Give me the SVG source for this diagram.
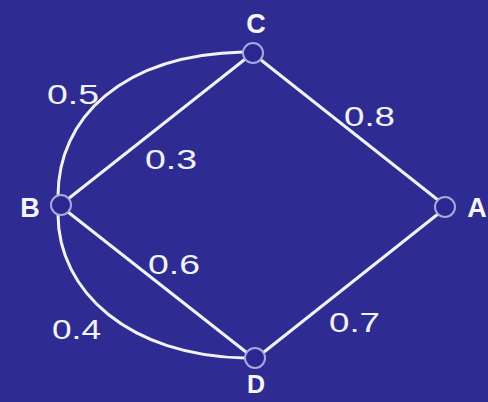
<svg xmlns="http://www.w3.org/2000/svg" width="488" height="402" viewBox="0 0 488 402">
<style>
.bg{fill:#2e2c93}
.e{fill:none;stroke:#f2f2fa;stroke-width:3;stroke-linecap:round}
.n{fill:#2a2890;stroke:#a8a8dc;stroke-width:2}
.w{fill:#f2f2fa;font-family:"Liberation Sans",Arial,sans-serif;font-size:27px}
.l{fill:#f6f6fc;font-family:"Liberation Sans",Arial,sans-serif;font-size:27px;font-weight:bold}
</style>
<rect class="bg" x="0" y="0" width="488" height="402"/>
<g id="connectors">
<path class="e" d="M261,60 L438,200"/>
<path class="e" d="M438,214 L264,352"/>
<path class="e" d="M68,199 L244,60"/>
<path class="e" d="M68,212 L246,352"/>
<path class="e" d="M58,196 C58,118 122,55 243,52"/>
<path class="e" d="M58,214 C58,292 130,356 245,358"/>
<text class="w" x="47" y="104" textLength="52" lengthAdjust="spacingAndGlyphs">0.5</text>
<text class="w" x="145" y="169" textLength="52" lengthAdjust="spacingAndGlyphs">0.3</text>
<text class="w" x="344" y="126" textLength="51" lengthAdjust="spacingAndGlyphs">0.8</text>
<text class="w" x="148" y="274" textLength="52" lengthAdjust="spacingAndGlyphs">0.6</text>
<text class="w" x="52" y="339" textLength="49" lengthAdjust="spacingAndGlyphs">0.4</text>
<text class="w" x="329" y="332" textLength="51" lengthAdjust="spacingAndGlyphs">0.7</text>
</g>
<g id="node-C"><circle class="n" cx="253" cy="53" r="10"/><text class="l" x="256" y="33" text-anchor="middle">C</text></g>
<g id="node-B"><circle class="n" cx="61" cy="205" r="10"/><text class="l" x="30" y="217" text-anchor="middle">B</text></g>
<g id="node-A"><circle class="n" cx="445" cy="207" r="10"/><text class="l" x="477" y="217" text-anchor="middle">A</text></g>
<g id="node-D"><circle class="n" cx="255" cy="358" r="10"/><text class="l" x="256" y="393" text-anchor="middle" style="font-size:25px">D</text></g>
</svg>
